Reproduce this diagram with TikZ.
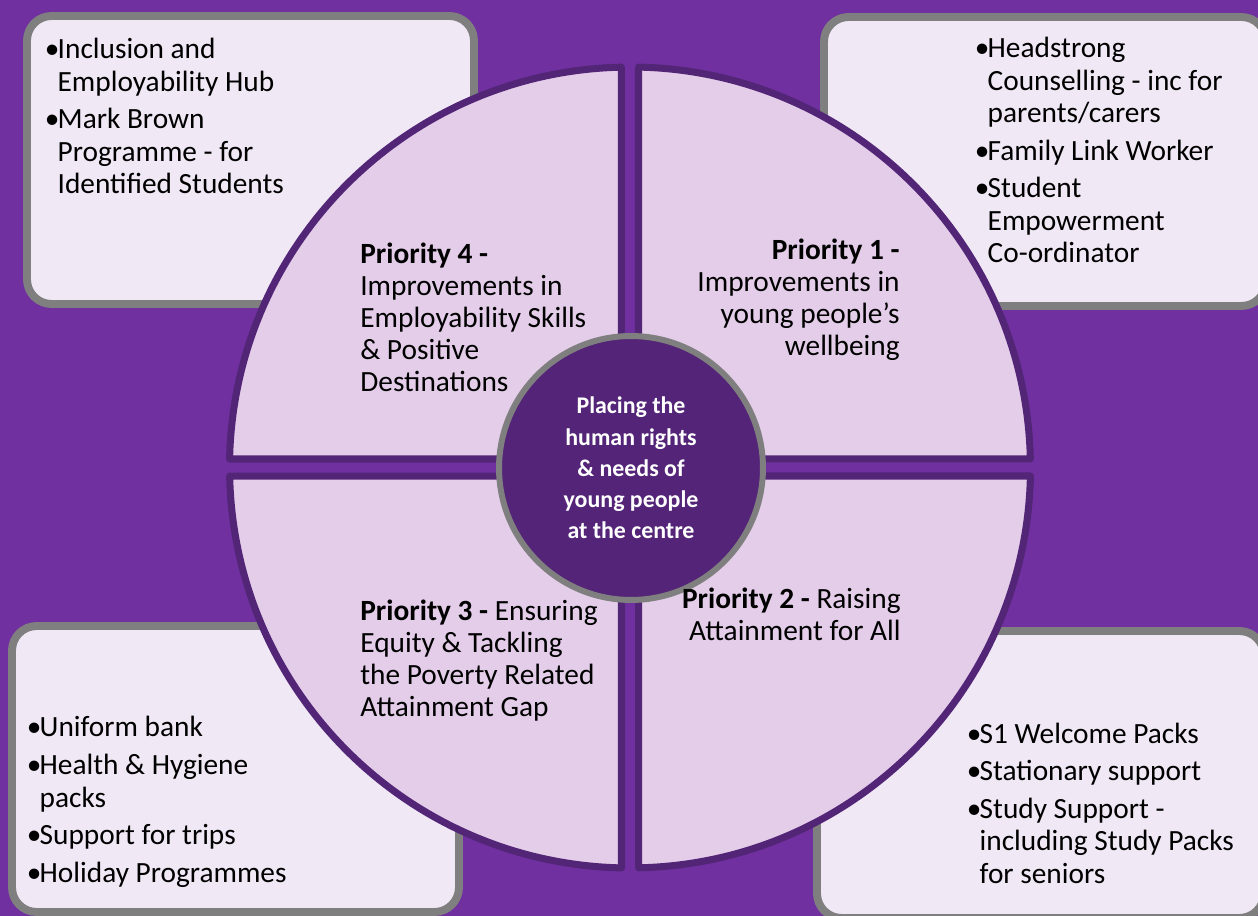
\documentclass[tikz,border=0pt]{standalone}
\usepackage{fontspec}
\setmainfont{Carlito}

\definecolor{bgpurple}{HTML}{7030A0}
\definecolor{quadedge}{HTML}{532577}
\definecolor{quadfill}{HTML}{E3CDE9}
\definecolor{boxfill}{HTML}{F0E8F5}
\definecolor{boxgrey}{HTML}{7F7F7F}
\definecolor{hubfill}{HTML}{532477}

\newcommand{\itemfont}{\fontsize{16.7}{18.5}\selectfont\setlength{\parskip}{2.85pt}}
\newcommand{\priofont}{\fontsize{16.7}{18.3}\selectfont}
\newcommand{\hubfont}{\fontsize{13.6}{17.8}\selectfont\bfseries}
\newlength{\bulletw}
\setlength{\bulletw}{7.3pt}
\newcommand{\bitem}[1]{\hangindent=\bulletw\hangafter=1\strut\makebox[\bulletw][l]{\textbullet}#1\par}

\begin{document}
\begin{tikzpicture}[
    x=0.02cm, y=0.02cm,
    infobox/.style={draw=boxgrey, line width=4.5pt, fill=boxfill, rounded corners=14pt},
    quad/.style={draw=quadedge, line width=4pt, fill=quadfill, line join=round},
    hub/.style={circle, draw=boxgrey, line width=3.4pt, fill=hubfill,
        minimum size=5.28cm, inner sep=0pt, text=white, font=\hubfont, align=center},
    prio/.style={inner sep=0pt, font=\priofont},
    items/.style={inner sep=0pt, text width=5.8cm, align=flush left, font=\itemfont, anchor=north west}
]
    \useasboundingbox (0,0) rectangle (1258,916);
    \fill[bgpurple] (0,0) rectangle (1258,916);

    % corner boxes
    \draw[infobox] (27,612) rectangle (474,900);
    \draw[infobox] (824,610) rectangle (1266,899);
    \draw[infobox] (12,4) rectangle (459,290);
    \draw[infobox] (817,-2) rectangle (1264,285);

    % the four quarters of the wheel
    \begin{scope}[shift={(630,448.5)}]
        \foreach \a in {0,90,180,270}
            \draw[quad, rotate=\a] (8.5,8.5) -- (8.5,400.41)
                arc[start angle=88.784, end angle=1.216, radius=8.01cm] -- cycle;
    \end{scope}

    \node[hub] (hub) at (631,448) {Placing the\\human rights\\\& needs of\\young people\\at the centre};

    % priorities
    \node[prio, anchor=north west, align=left] (prio4) at (360,675.8)
        {\strut\textbf{Priority 4 -}\\Improvements in\\Employability Skills\\\& Positive\\Destinations};
    \node[prio, anchor=north east, align=right] (prio1) at (900,679.8)
        {\strut\textbf{Priority 1 -}\\Improvements in\\young people's\\wellbeing};
    \node[prio, anchor=north west, align=left] (prio3) at (360,318.8)
        {\strut\textbf{Priority 3 -} Ensuring\\Equity \& Tackling\\the Poverty Related\\Attainment Gap};
    \node[prio, anchor=north east, align=right] (prio2) at (901,330.8)
        {\strut\textbf{Priority 2 -} Raising\\Attainment for All};

    % supports in the corners
    \node[items] (acts4) at (44.5,880.3) {%
        \bitem{Inclusion and\newline Employability Hub}%
        \bitem{Mark Brown\newline Programme - for\newline Identified Students}};
    \node[items] (acts1) at (974.5,881.5) {%
        \bitem{Headstrong\newline Counselling - inc for\newline parents/carers}%
        \bitem{Family Link Worker}%
        \bitem{Student\newline Empowerment\newline Co-ordinator}};
    \node[items] (acts3) at (26.5,202.1) {%
        \bitem{Uniform bank}%
        \bitem{Health \& Hygiene\newline packs}%
        \bitem{Support for trips}%
        \bitem{Holiday Programmes}};
    \node[items] (acts2) at (966.5,196.1) {%
        \bitem{S1 Welcome Packs}%
        \bitem{Stationary support}%
        \bitem{Study Support -\newline including Study Packs\newline for seniors}};
\end{tikzpicture}
\end{document}
